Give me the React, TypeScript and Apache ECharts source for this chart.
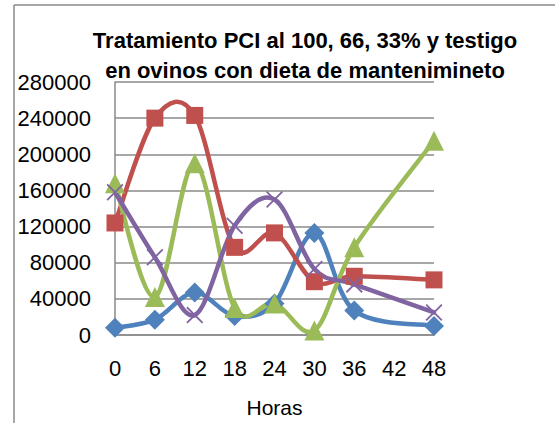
import React, { useEffect, useRef } from "react";
import * as echarts from "echarts";

const horas = ["0", "6", "12", "18", "24", "30", "36", "42", "48"];
const yTicks = [0, 40000, 80000, 120000, 160000, 200000, 240000, 280000];

const serieAzul = [8000, 17000, 47000, 21000, 35000, 113000, 27000, null, 10000];
const serieRoja = [124000, 240000, 243000, 97000, 113000, 59000, 65000, null, 61000];
const serieVerde = [168000, 42000, 190000, 30000, 35000, 5000, 97000, null, 215000];
const serieMorada = [158000, 86000, 22000, 121000, 150000, 73000, 56000, null, 25000];

const titulo = "Tratamiento PCI al 100, 66, 33% y testigo\nen ovinos con dieta de mantenimineto";
const ejeX = "Horas";

const FONT = '"Liberation Sans", Arial, sans-serif';

const xPath =
  "path://M0,1.5 L1.5,0 L10,8.5 L18.5,0 L20,1.5 L11.5,10 L20,18.5 L18.5,20 L10,11.5 L1.5,20 L0,18.5 L8.5,10 Z";

type Val = number | null;

function curve(name: string, arr: Val[], color: string) {
  const pts = arr
    .map((v, i) => (v == null ? null : [i, v]))
    .filter((p) => p !== null) as number[][];
  const segs = pts.slice(0, -1);
  return {
    type: "custom",
    name,
    data: segs,
    encode: { x: 0, y: 1 },
    silent: true,
    clip: false,
    z: 2,
    renderItem: (params: any, api: any) => {
      const i = params.dataIndex;
      const c = (k: number) => api.coord(pts[Math.max(0, Math.min(pts.length - 1, k))]);
      const p0 = c(i - 1);
      const p1 = c(i);
      const p2 = c(i + 1);
      const p3 = c(i + 2);
      const t = 1 / 6;
      return {
        type: "bezierCurve",
        shape: {
          x1: p1[0],
          y1: p1[1],
          x2: p2[0],
          y2: p2[1],
          cpx1: p1[0] + (p2[0] - p0[0]) * t,
          cpy1: p1[1] + (p2[1] - p0[1]) * t,
          cpx2: p2[0] - (p3[0] - p1[0]) * t,
          cpy2: p2[1] - (p3[1] - p1[1]) * t,
        },
        style: { stroke: color, lineWidth: 4.5, fill: "none", lineCap: "round" },
      };
    },
  };
}

function markers(name: string, arr: Val[], color: string, symbol: string, size: number) {
  return {
    type: "line",
    name,
    data: arr,
    connectNulls: true,
    symbol,
    symbolSize: size,
    showSymbol: true,
    z: 2,
    lineStyle: { width: 0, opacity: 0 },
    itemStyle: { color, borderWidth: 0 },
    emphasis: { disabled: true },
  };
}

export default function App() {
  const ref = useRef<HTMLDivElement>(null);
  useEffect(() => {
    if (!ref.current) return;
    const chart = echarts.init(ref.current, null, { renderer: "svg" });
    chart.setOption({
      animation: false,
      backgroundColor: "#ffffff",
      title: {
        text: titulo,
        left: 300,
        top: 20,
        textAlign: "center",
        textStyle: {
          fontFamily: FONT,
          fontWeight: "bold",
          fontSize: 22,
          lineHeight: 30,
          color: "#000000",
        },
      },
      grid: { left: 115, right: 121, top: 82, bottom: 81, containLabel: false },
      xAxis: {
        type: "category",
        data: horas,
        boundaryGap: false,
        name: ejeX,
        nameLocation: "middle",
        nameGap: 62,
        nameTextStyle: { fontFamily: FONT, fontSize: 21, color: "#000" },
        axisLine: { show: true, lineStyle: { color: "#8a8a8a", width: 1.5 } },
        axisTick: { show: false },
        splitLine: { show: false },
        axisLabel: { fontFamily: FONT, fontSize: 22, color: "#000", margin: 22 },
      },
      yAxis: {
        type: "value",
        min: yTicks[0],
        max: yTicks[yTicks.length - 1],
        interval: yTicks[1] - yTicks[0],
        axisLine: { show: true, lineStyle: { color: "#8a8a8a", width: 1.5 } },
        axisTick: { show: false },
        splitLine: { show: true, lineStyle: { color: "#8a8a8a", width: 1.5 } },
        axisLabel: {
          fontFamily: FONT,
          fontSize: 22,
          color: "#000",
          margin: 24,
          formatter: (v: number) => String(v),
        },
      },
      graphic: [
        { type: "line", shape: { x1: 14, y1: 5, x2: 555, y2: 5 }, style: { stroke: "#8a8a8a", lineWidth: 1.5 } },
        { type: "line", shape: { x1: 14, y1: 5, x2: 14, y2: 423 }, style: { stroke: "#8a8a8a", lineWidth: 1.5 } },
      ],
      series: [
        curve("Testigo", serieAzul, "#4F81BD"),
        markers("Testigo", serieAzul, "#4F81BD", "diamond", 20),
        curve("PCI 100%", serieRoja, "#C0504D"),
        markers("PCI 100%", serieRoja, "#C0504D", "rect", 17),
        curve("PCI 66%", serieVerde, "#9BBB59"),
        markers("PCI 66%", serieVerde, "#9BBB59", "triangle", 20),
        curve("PCI 33%", serieMorada, "#8064A2"),
        markers("PCI 33%", serieMorada, "#8064A2", xPath, 17),
      ],
    });
    return () => chart.dispose();
  }, []);
  return <div ref={ref} style={{ position: "fixed", left: 0, top: 0, width: 555, height: 423 }} />;
}
